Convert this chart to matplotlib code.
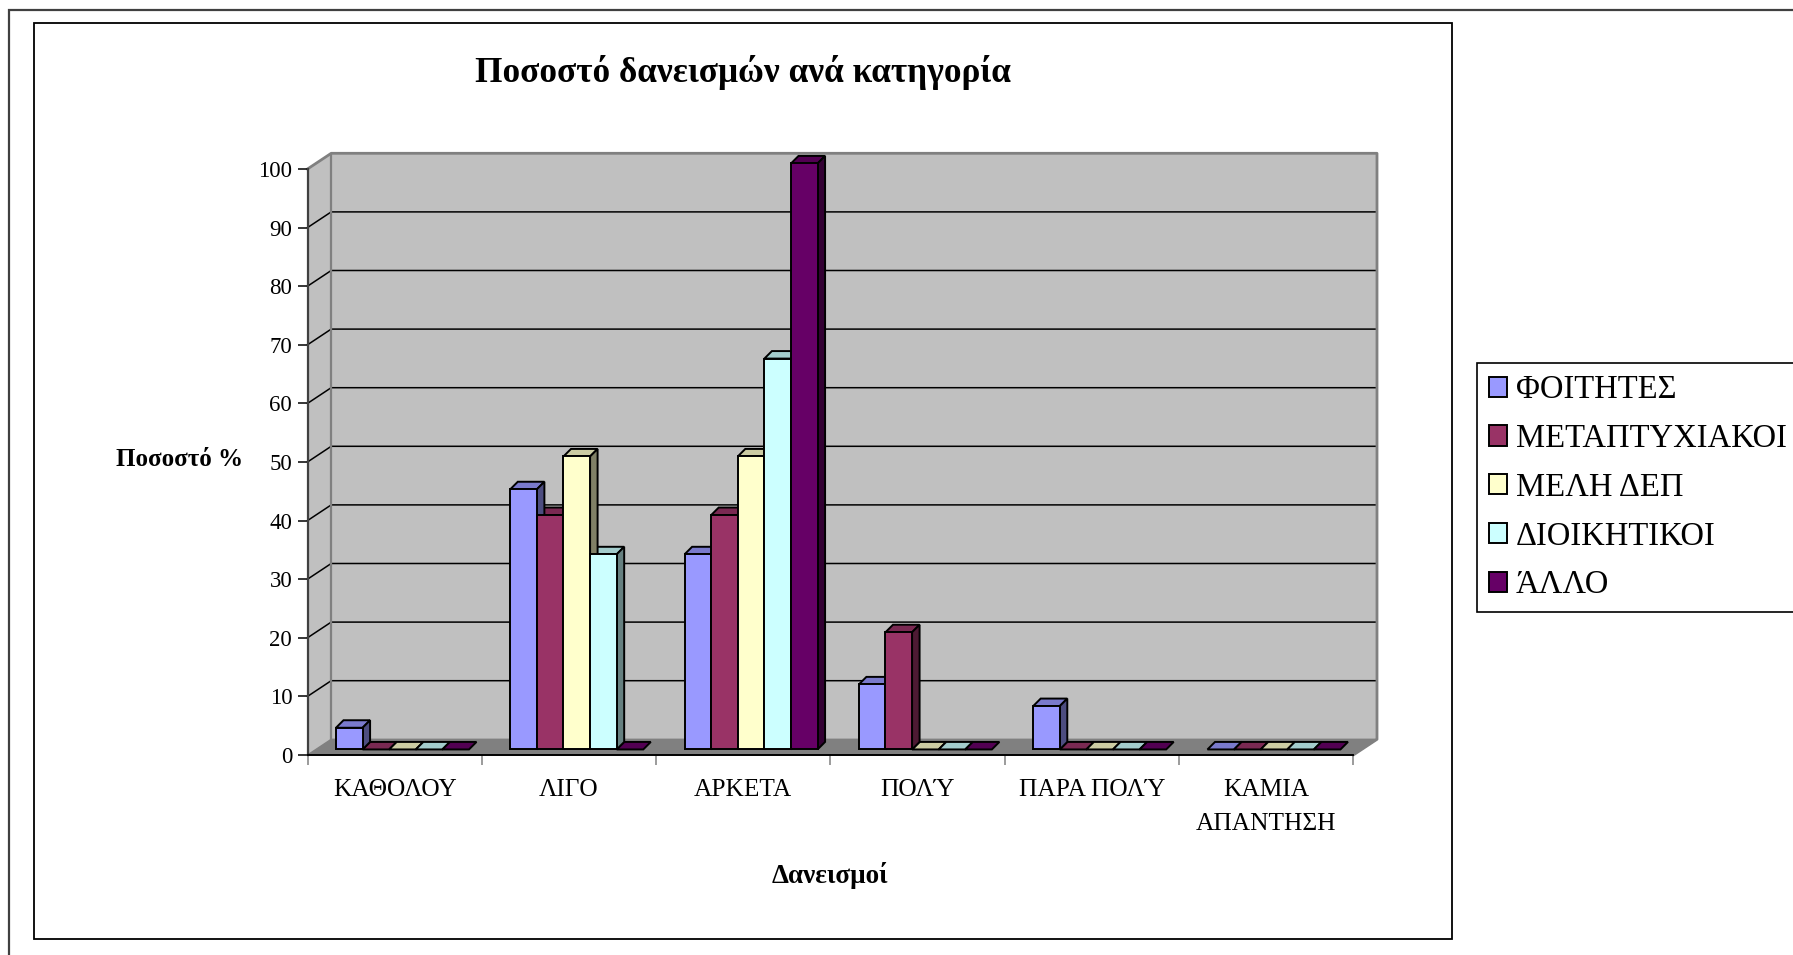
import numpy as np
import matplotlib.pyplot as plt
from matplotlib.patches import Patch, Rectangle
from matplotlib.colors import to_rgb

plt.rcParams['font.family'] = ['Liberation Serif', 'DejaVu Serif']

# data
categories = ['ΚΑΘΟΛΟΥ', 'ΛΙΓΟ', 'ΑΡΚΕΤΑ', 'ΠΟΛΎ', 'ΠΑΡΑ ΠΟΛΎ', 'ΚΑΜΙΑ\nΑΠΑΝΤΗΣΗ']
series_names = ['ΦΟΙΤΗΤΕΣ', 'ΜΕΤΑΠΤΥΧΙΑΚΟΙ', 'ΜΕΛΗ ΔΕΠ', 'ΔΙΟΙΚΗΤΙΚΟΙ', 'ΆΛΛΟ']
foitites = [3.7, 44.4, 33.3, 11.1, 7.4, 0]
metaptyxiakoi = [0, 40, 40, 20, 0, 0]
meli_dep = [0, 50, 50, 0, 0, 0]
dioikitikoi = [0, 33.3, 66.7, 0, 0, 0]
allo = [0, 0, 100, 0, 0, 0]
series = [foitites, metaptyxiakoi, meli_dep, dioikitikoi, allo]
colors = ['#9999FF', '#993366', '#FFFFCC', '#CCFFFF', '#660066']
yticks = list(range(0, 101, 10))

W, H = 1793, 955
fig = plt.figure(figsize=(W / 100, H / 100), dpi=100)

# frames of the chart object
fig.add_artist(Rectangle((9 / W, -0.1), 1.2, 1 - 10 / H + 0.1, transform=fig.transFigure,
                         fill=False, ec='#404040', lw=1.6))
fig.add_artist(Rectangle((34 / W, 1 - 939 / H), (1452 - 34) / W, (939 - 23) / H,
                         transform=fig.transFigure, fill=False, ec='black', lw=1.3))

# fake 3d geometry (in data units)
n = len(categories)
DX, DY = 0.136, 2.68          # depth of floor / walls
BW = 0.1526                   # bar width
OX, OY = 0.045, 0.95          # bars set back from front edge
BX, BY = 0.043, 1.28          # depth of each bar

ax = fig.add_axes([307.5 / W, 1 - 755 / H, (1377 - 307.5) / W, (755 - 153.3) / H])
ax.set_xlim(0, n + DX)
ax.set_ylim(0, 100 + DY)
ax.patch.set_visible(False)

# walls and floor
ax.fill([0, DX, DX, 0], [0, DY, 100 + DY, 100], color='#C0C0C0', zorder=0)
ax.fill([DX, n + DX, n + DX, DX], [DY, DY, 100 + DY, 100 + DY], color='#C0C0C0', zorder=0)
ax.fill([0, n, n + DX, DX], [0, 0, DY, DY], color='#808080', zorder=0)
for v in yticks[1:-1]:
    ax.plot([0, DX, n + DX], [v, v + DY, v + DY], color='black', lw=1.1, zorder=1, clip_on=False)
ax.plot([0, DX, n + DX, n + DX, n], [100, 100 + DY, 100 + DY, DY, 0], color='#808080', lw=2,
        zorder=1, clip_on=False)
ax.plot([DX, DX], [DY, 100 + DY], color='#808080', lw=1.6, zorder=1)

# bars: tops, then sides, then fronts
tops, sides, fronts = [], [], []
for i in range(n):
    for j, vals in enumerate(series):
        v = vals[i]
        c = np.array(to_rgb(colors[j]))
        xl = i + 0.5 - len(series) * BW / 2 + j * BW + OX
        xr = xl + BW
        tops.append(([xl, xr, xr + BX, xl + BX], [OY + v, OY + v, OY + v + BY, OY + v + BY], c * 0.8))
        if v > 0:
            sides.append(([xr, xr + BX, xr + BX, xr], [OY, OY + BY, OY + v + BY, OY + v], c * 0.5))
            fronts.append(([xl, xr, xr, xl], [OY, OY, OY + v, OY + v], c))
for k, group in enumerate([tops, sides, fronts]):
    for xs, ys, c in group:
        ax.fill(xs, ys, facecolor=c, edgecolor='black', lw=1.4, zorder=2 + k, clip_on=False)

# axes
for s in ['top', 'right']:
    ax.spines[s].set_visible(False)
ax.spines['left'].set_bounds(0, 100)
ax.spines['left'].set_color('#404040')
ax.spines['left'].set_linewidth(1.6)
ax.spines['bottom'].set_bounds(0, n)
ax.spines['bottom'].set_linewidth(1.4)
ax.spines['bottom'].set_zorder(6)
ax.set_yticks(yticks)
ax.tick_params(axis='y', length=7.2, width=1.1, pad=3.8, labelsize=16.5, color='black')
ax.set_xticks(range(n + 1))
ax.set_xticklabels([])
ax.set_xticks(np.arange(n) + 0.5, minor=True)
ax.set_xticklabels(categories, minor=True, linespacing=1.75)
ax.tick_params(axis='x', which='major', length=7.2, width=1.1, color='#808080')
ax.tick_params(axis='x', which='minor', length=0, pad=17, labelsize=18.3)

# texts
fig.text(743 / W, 1 - 72 / H, 'Ποσοστό δανεισμών ανά κατηγορία', ha='center', va='center',
         fontsize=25.4, fontweight='bold')
fig.text(180 / W, 1 - 459 / H, 'Ποσοστό %', ha='center', va='center', fontsize=18, fontweight='bold')
fig.text(830 / W, 1 - 875 / H, 'Δανεισμοί', ha='center', va='center', fontsize=19.5, fontweight='bold')

# legend
handles = [Patch(facecolor=c, edgecolor='black', lw=1.4) for c in colors]
leg = fig.legend(handles, series_names, loc='upper left', bbox_to_anchor=(1477 / W, 1 - 363 / H),
                 bbox_transform=fig.transFigure, fancybox=False, edgecolor='black', framealpha=1,
                 borderaxespad=0, fontsize=23.5, handlelength=0.57, handleheight=0.57,
                 handletextpad=0.25, borderpad=0.36, labelspacing=0.56)
leg.get_frame().set_linewidth(1.2)

fig.savefig('out.png', dpi=100)
